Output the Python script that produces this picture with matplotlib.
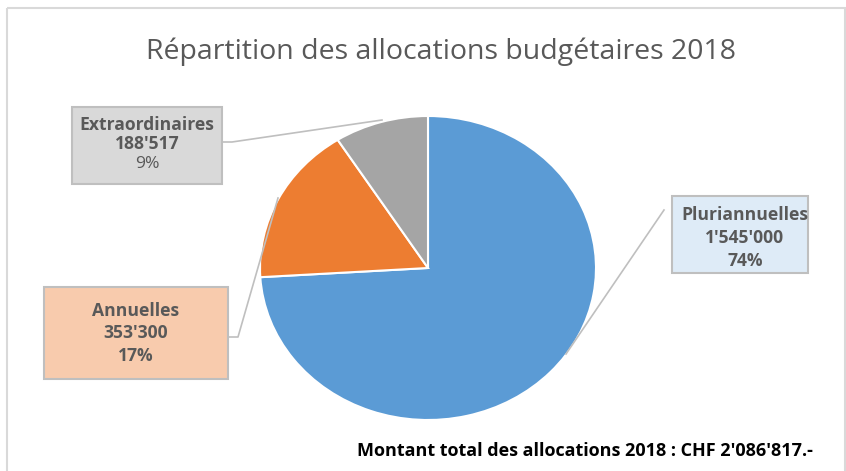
import matplotlib
matplotlib.use('Agg')
import matplotlib.pyplot as plt
from matplotlib.patches import Rectangle

# data
categories = ['Pluriannuelles', 'Annuelles', 'Extraordinaires']
amounts = [1545000, 353300, 188517]
amount_labels = ["1'545'000", "353'300", "188'517"]
colors = ['#5B9BD5', '#ED7D31', '#A5A5A5']
box_colors = ['#DEEBF7', '#F8CBAD', '#D9D9D9']
title = 'Répartition des allocations budgétaires 2018'
footer = "Montant total des allocations 2018 : CHF 2'086'817.-"

W, H = 846, 471
fig = plt.figure(figsize=(W / 100, H / 100), dpi=100)
fig.patch.set_facecolor('white')

# overlay axes in pixel coordinates for the frame, boxes and leader lines
bg = fig.add_axes([0, 0, 1, 1])
bg.set_xlim(0, W)
bg.set_ylim(H, 0)
bg.axis('off')
bg.add_patch(Rectangle((7, 8), 838, 480, fill=False, edgecolor='#D9D9D9', lw=1.5))

# pie (slightly squashed like the original)
cx, cy, rx, ry = 428, 268, 168, 152
ax = fig.add_axes([(cx - rx) / W, (H - cy - ry) / H, 2 * rx / W, 2 * ry / H])
ax.pie(amounts, colors=colors, startangle=90, counterclock=False,
       wedgeprops=dict(edgecolor='white', linewidth=1.5))
ax.set_aspect('auto')
ax.set_xlim(-1, 1)
ax.set_ylim(-1, 1)
ax.axis('off')

total = sum(amounts)
pcts = ['%d%%' % round(a * 100 / total) for a in amounts]

# label boxes: (left, top, right, bottom), line y positions, bold percent?
boxes = [
    ((672, 196, 808, 273), (215, 238, 261), True),
    ((44, 287, 228, 379), (311, 333, 356), True),
    ((72, 107, 222, 184), (125, 144, 164), False),
]
leaders = [
    [(664, 210), (566, 354)],
    [(228, 337), (238, 337), (278, 198)],
    [(222, 142), (232, 142), (382, 120)],
]

font = 'Open Sans'
fs = 12.6
for i, cat in enumerate(categories):
    (l, t, r, b), ys, bold_pct = boxes[i]
    bg.add_patch(Rectangle((l, t), r - l, b - t, facecolor=box_colors[i],
                           edgecolor='#BFBFBF', lw=1.5, zorder=3))
    xm = (l + r) / 2
    if i == 0:
        xm = 745
    bg.text(xm, ys[0], cat, ha='center', va='center', fontsize=fs,
            fontweight='bold', color='#595959', family=font, zorder=4)
    bg.text(xm, ys[1], amount_labels[i], ha='center', va='center', fontsize=fs,
            fontweight='bold', color='#595959', family=font, zorder=4)
    bg.text(xm, ys[2], pcts[i], ha='center', va='center', fontsize=fs,
            fontweight='bold' if bold_pct else 'normal', color='#595959',
            family=font, zorder=4)
    xs = [p[0] for p in leaders[i]]
    yy = [p[1] for p in leaders[i]]
    bg.plot(xs, yy, color='#BFBFBF', lw=1.2, zorder=2)

bg.text(441, 52, title, ha='center', va='center', fontsize=20.5,
        color='#595959', family=font)
bg.text(585, 451, footer, ha='center', va='center', fontsize=13,
        fontweight='bold', color='black', family=font)

bg.set_zorder(2)
ax.set_zorder(1)
bg.patch.set_alpha(0)

fig.savefig('out.png', dpi=100)
